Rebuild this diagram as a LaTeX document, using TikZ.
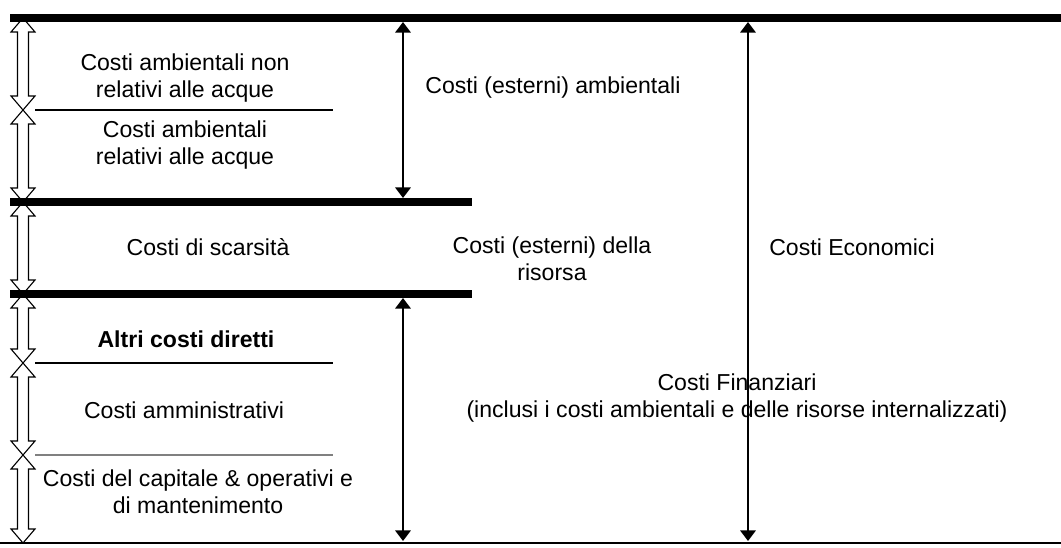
\documentclass[tikz,border=0pt]{standalone}
\usepackage{fontspec}
\setmainfont{Liberation Sans}
\usetikzlibrary{arrows.meta,calc}

% hollow up-down arrow between two named levels
\newcommand{\udarrow}[2]{%
  \draw[hollow] (#1) -- ++(-12,14) -- ++(6.5,0) -- ($(#2)+(-5.5,-14)$)
    -- ++(-6.5,0) -- (#2) -- ++(12,-14) -- ++(-6.5,0)
    -- ($(#1)+(5.5,14)$) -- ++(6.5,0) -- cycle;}

\begin{document}
\begin{tikzpicture}[x=0.025cm,y=-0.025cm,
    lbl/.style={align=center,inner sep=0pt,font=\fontsize{16.4}{19.2}\selectfont},
    bar/.style={line width=6pt},
    sep/.style={line width=0.9pt},
    hollow/.style={draw=black,line width=0.8pt,fill=white},
    dim/.style={line width=1.1pt,
      {Triangle[length=7.5pt,width=11pt]}-{Triangle[length=7.5pt,width=11pt]}}]
  \useasboundingbox (0,0) rectangle (1061,547);
  % levels on the left
  \coordinate (a0) at (23,18);
  \coordinate (a1) at (23,110);
  \coordinate (a2) at (23,202);
  \coordinate (a3) at (23,294);
  \coordinate (a4) at (23,363);
  \coordinate (a5) at (23,455);
  \coordinate (a6) at (23,543);
  \foreach \p/\q in {a0/a1,a1/a2,a2/a3,a3/a4,a4/a5,a5/a6}{% one arrow per band
    \udarrow{\p}{\q}}
  % horizontal bars and rules
  \draw[bar] (10,18) -- (1061,18);
  \draw[bar] (10,202) -- (472,202);
  \draw[bar] (10,294) -- (472,294);
  \draw[line width=2pt] (0,543) -- (1061,543);
  \draw[sep] (35,110) -- (333,110);
  \draw[sep] (35,363) -- (333,363);
  \draw[sep,gray] (35,455) -- (333,455);
  % measured spans
  \coordinate (m0) at (403,22);
  \coordinate (m1) at (403,198);
  \coordinate (m2) at (403,298);
  \coordinate (m3) at (403,541);
  \coordinate (e0) at (748,22);
  \coordinate (e1) at (748,541);
  \draw[dim] (m0) -- (m1);
  \draw[dim] (m2) -- (m3);
  \draw[dim] (e0) -- (e1);
  % labels
  \node[lbl] (nonacque) at (185,78) {Costi ambientali non\\relativi alle acque};
  \node[lbl] (acque) at (185,145) {Costi ambientali\\relativi alle acque};
  \node[lbl] (esterni) at (553,88) {Costi (esterni) ambientali};
  \node[lbl] (scarsita) at (208,247) {Costi di scarsità};
  \node[lbl] (risorsa) at (552,259) {Costi (esterni) della\\risorsa};
  \node[lbl] (economici) at (852,247) {Costi Economici};
  \node[lbl,font=\fontsize{16.4}{19.2}\selectfont\bfseries] (diretti) at (186,339) {Altri costi diretti};
  \node[lbl] (ammin) at (184,410) {Costi amministrativi};
  \node[lbl] (capitale) at (198,492) {Costi del capitale \& operativi e\\di mantenimento};
  \node[lbl] (finanziari) at (737,398) {Costi Finanziari\\(inclusi i costi ambientali e delle risorse internalizzati)};
\end{tikzpicture}
\end{document}
